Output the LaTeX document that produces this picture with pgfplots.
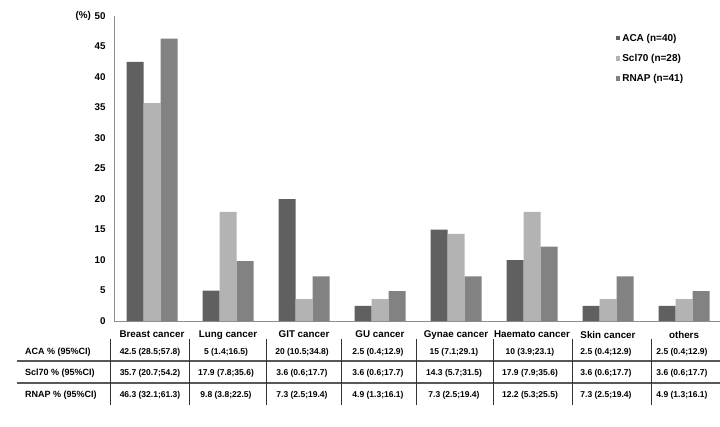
\documentclass[border=0pt]{standalone}
\usepackage{fontspec}
\setmainfont{Liberation Sans}
\usepackage{pgfplots}
\pgfplotsset{compat=1.18}
\definecolor{aca}{HTML}{606060}
\definecolor{scl}{HTML}{B3B3B3}
\definecolor{rnap}{HTML}{828282}
\definecolor{axg}{HTML}{8C8C8C}
\begin{document}
\begin{tikzpicture}[x=1pt,y=1pt]
\useasboundingbox (0,0) rectangle (720,426);
\begin{axis}[
  at={(114pt,105pt)}, anchor=south west,
  scale only axis, width=608pt, height=305pt,
  xmin=-0.5, xmax=7.5, ymin=0, ymax=50,
  ybar=0pt, bar width=17pt,
  axis lines=left, axis line style={draw=axg, line width=0.9pt, -},
  xtick={0,...,7},
  xticklabels={Breast cancer, Lung cancer, GIT cancer, GU cancer, Gynae cancer, Haemato cancer, Skin cancer, others},
  ytick={0,5,...,50},
  major tick length=0pt,
  /pgf/number format/assume math mode=true,
  tick label style={font=\bfseries\fontsize{9.8}{11}\selectfont},
  yticklabel style={xshift=-5pt},
  xticklabel style={yshift=-6.5pt},
  legend style={at={(0.825,0.948)}, anchor=north west, draw=none, fill=none,
    font=\bfseries\fontsize{10}{12}\selectfont, row sep=7.5pt, inner sep=0pt,
    /tikz/every even column/.append style={column sep=3pt}},
  legend cell align=left,
  legend image code/.code={\fill[#1] (0pt,-2pt) rectangle (4.5pt,2.5pt);},
]
\addplot[fill=aca, draw=none] coordinates {(0,42.5) (1,5) (2,20) (3,2.5) (4,15) (5,10) (6,2.5) (7,2.5)};
\addplot[fill=scl, draw=none] coordinates {(0,35.7) (1,17.9) (2,3.6) (3,3.6) (4,14.3) (5,17.9) (6,3.6) (7,3.6)};
\addplot[fill=rnap, draw=none] coordinates {(0,46.3) (1,9.8) (2,7.3) (3,4.9) (4,7.3) (5,12.2) (6,7.3) (7,4.9)};
\legend{ACA (n=40), Scl70 (n=28), RNAP (n=41)}
\end{axis}
\node[anchor=east, font=\bfseries\fontsize{9.8}{11}\selectfont, inner sep=0pt] at (91,410) {(\%)};
% table
\draw[line width=1.2pt, draw=black!65] (17,65) -- (720,65);
\draw[line width=1.2pt, draw=black!65] (17,43) -- (720,43);
\foreach \xx in {110,189,266,341,416,493,572,651}
  \draw[line width=0.9pt, draw=black!80] (\xx,87) -- (\xx,21);
\begin{scope}[every node/.style={font=\bfseries\fontsize{9}{11}\selectfont, inner sep=0pt, anchor=west}]
\node at (25,74) {ACA \% (95\%CI)};
\node at (25,53) {Scl70 \% (95\%CI)};
\node at (25,31) {RNAP \% (95\%CI)};
\end{scope}
\begin{scope}[every node/.style={font=\bfseries\fontsize{8.5}{10}\selectfont, inner sep=0pt}]
\foreach \v [count=\i from 0] in {{42.5 (28.5;57.8)},{5 (1.4;16.5)},{20 (10.5;34.8)},{2.5 (0.4;12.9)},{15 (7.1;29.1)},{10 (3.9;23.1)},{2.5 (0.4;12.9)},{2.5 (0.4;12.9)}}
  \node at (150+76*\i,74) {\v};
\foreach \v [count=\i from 0] in {{35.7 (20.7;54.2)},{17.9 (7.8;35.6)},{3.6 (0.6;17.7)},{3.6 (0.6;17.7)},{14.3 (5.7;31.5)},{17.9 (7.9;35.6)},{3.6 (0.6;17.7)},{3.6 (0.6;17.7)}}
  \node at (150+76*\i,53) {\v};
\foreach \v [count=\i from 0] in {{46.3 (32.1;61.3)},{9.8 (3.8;22.5)},{7.3 (2.5;19.4)},{4.9 (1.3;16.1)},{7.3 (2.5;19.4)},{12.2 (5.3;25.5)},{7.3 (2.5;19.4)},{4.9 (1.3;16.1)}}
  \node at (150+76*\i,31) {\v};
\end{scope}
\end{tikzpicture}
\end{document}
